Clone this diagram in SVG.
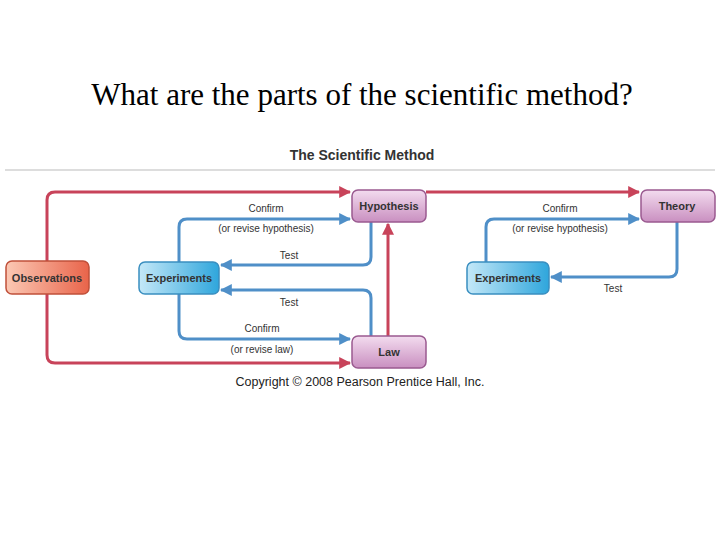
<svg xmlns="http://www.w3.org/2000/svg" width="720" height="540" viewBox="0 0 720 540">
<defs>
<marker id="ar" viewBox="0 0 10 10" refX="9" refY="5" markerWidth="4" markerHeight="4" orient="auto"><path d="M0,0L10,5L0,10z" fill="#c8435a"/></marker>
<marker id="ab" viewBox="0 0 10 10" refX="9" refY="5" markerWidth="4" markerHeight="4" orient="auto"><path d="M0,0L10,5L0,10z" fill="#4f8fc8"/></marker>
<linearGradient id="gp" x1="0" y1="0" x2="0" y2="1"><stop offset="0" stop-color="#f3dcef"/><stop offset="1" stop-color="#c98fc0"/></linearGradient>
<linearGradient id="gb" x1="0" y1="0" x2="1" y2="0"><stop offset="0" stop-color="#c4e8f8"/><stop offset="1" stop-color="#2fa6dc"/></linearGradient>
<linearGradient id="go" x1="0" y1="0" x2="1" y2="0"><stop offset="0" stop-color="#fbc8b4"/><stop offset="1" stop-color="#e9644a"/></linearGradient>
</defs>
<style>
.r{fill:none;stroke:#c8435a;stroke-width:3;marker-end:url(#ar)}
.b{fill:none;stroke:#4f8fc8;stroke-width:3;marker-end:url(#ab)}
.p{fill:url(#gp);stroke:#9a5a90;stroke-width:1.5}
.bl{fill:url(#gb);stroke:#3a8fc0;stroke-width:1.5}
.o{fill:url(#go);stroke:#c0503a;stroke-width:1.5}
.n{font-family:"Liberation Sans",Arial,sans-serif;font-size:11px;font-weight:bold;fill:#333;text-anchor:middle}
.l{font-family:"Liberation Sans",Arial,sans-serif;font-size:10px;fill:#333;text-anchor:middle}
</style>
<rect width="720" height="540" fill="#fff"/>
<text x="362" y="105" font-family="Liberation Serif,serif" font-size="31" text-anchor="middle">What are the parts of the scientific method?</text>
<text x="362" y="160" font-family="Liberation Sans,Arial,sans-serif" font-size="14" font-weight="bold" fill="#333" text-anchor="middle">The Scientific Method</text>
<line x1="5" y1="170" x2="715" y2="170" stroke="#bbb" stroke-width="1"/>
<g id="connectors">
<path class="r" d="M47,261V200Q47,192 55,192H350"/>
<path class="r" d="M47,294V355Q47,363 55,363H350"/>
<path class="r" d="M426,192H639"/>
<path class="r" d="M388,336V224"/>
<path class="b" d="M179,262V227Q179,219 187,219H350"/>
<path class="b" d="M371,222V257Q371,265 363,265H221"/>
<path class="b" d="M371,336V298Q371,290 363,290H221"/>
<path class="b" d="M179,294V331Q179,339 187,339H350"/>
<path class="b" d="M486,262V227Q486,219 494,219H639"/>
<path class="b" d="M677,222V269Q677,277 669,277H551"/>
<text class="l" x="266" y="212">Confirm</text>
<text class="l" x="266" y="232">(or revise hypothesis)</text>
<text class="l" x="289" y="259">Test</text>
<text class="l" x="289" y="306">Test</text>
<text class="l" x="262" y="332">Confirm</text>
<text class="l" x="262" y="353">(or revise law)</text>
<text class="l" x="560" y="212">Confirm</text>
<text class="l" x="560" y="232">(or revise hypothesis)</text>
<text class="l" x="613" y="292">Test</text>
<text x="360" y="386" font-family="Liberation Sans,Arial,sans-serif" font-size="12.5" fill="#222" text-anchor="middle">Copyright © 2008 Pearson Prentice Hall, Inc.</text>
</g>
<g id="observations"><rect class="o" x="6" y="261" width="83" height="33" rx="6"/><text class="n" x="47" y="282">Observations</text></g>
<g id="experiments1"><rect class="bl" x="139" y="262" width="80" height="32" rx="6"/><text class="n" x="179" y="282">Experiments</text></g>
<g id="hypothesis"><rect class="p" x="352" y="190" width="74" height="32" rx="6"/><text class="n" x="389" y="210">Hypothesis</text></g>
<g id="law"><rect class="p" x="352" y="336" width="74" height="32" rx="6"/><text class="n" x="389" y="356">Law</text></g>
<g id="theory"><rect class="p" x="641" y="190" width="74" height="32" rx="6"/><text class="n" x="677" y="210">Theory</text></g>
<g id="experiments2"><rect class="bl" x="467" y="262" width="82" height="32" rx="6"/><text class="n" x="508" y="282">Experiments</text></g>
</svg>
